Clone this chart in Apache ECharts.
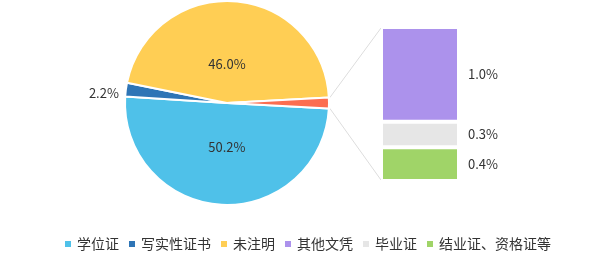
<!DOCTYPE html>
<html><head><meta charset="utf-8">
<script src="https://cdn.jsdelivr.net/npm/echarts@6/dist/echarts.min.js"></script>
<style>html,body{margin:0;padding:0;background:#fff}#c{width:600px;height:256px}</style>
</head><body><div id="c"></div>
<script>
// Pie data
const pieNames = ['学位证', '写实性证书', '未注明', '其他'];
const pieValues = [50.2, 2.2, 46.0];
// Breakdown of "其他" (stacked bar), top to bottom
const barNames = ['其他文凭', '毕业证', '结业证、资格证等'];
const barValues = [1.04, 0.28, 0.37];
const legendNames = ['学位证', '写实性证书', '未注明', '其他文凭', '毕业证', '结业证、资格证等'];

const pieColors = ['#4fc1e9', '#2e75b6', '#ffce54', '#fc6e51'];
const barColors = ['#ac92ec', '#e6e6e6', '#a0d468'];

const otherTotal = barValues.reduce((a, b) => a + b, 0);
const allPie = pieValues.concat([otherTotal]);
const total = allPie.reduce((a, b) => a + b, 0);
const otherAngle = otherTotal / total * 360;
const startAngle = -otherAngle / 2;
const center = [227, 103];
const radius = 102;
const font = '"Noto Sans CJK SC", "Noto Sans", sans-serif';
const labelOffsets = [[3, -10], [0, 4], [-4, 15], [0, 0]];

const chart = echarts.init(document.getElementById('c'));

const pieData = allPie.map((v, i) => {
  const d = { name: pieNames[i], value: v, itemStyle: { color: pieColors[i] }, label: { offset: labelOffsets[i] } };
  if (i === 1) {
    d.label.position = 'outside';
    d.labelLine = { show: false, length: 2, length2: 0 };
  }
  if (i === 3) {
    d.label.show = false;
  }
  return d;
});

// bars: stacking bottom to top
const barSeries = [];
for (let i = barNames.length - 1; i >= 0; i--) {
  barSeries.push({
    type: 'bar', name: barNames[i], stack: 's',
    data: [barValues[i]], barWidth: '100%',
    itemStyle: { color: barColors[i], borderColor: '#fff', borderWidth: 2 },
    label: { show: true, position: 'right', distance: 9, color: '#333', fontSize: 13, fontFamily: font,
      formatter: p => p.value.toFixed(1) + '%' },
    emphasis: { disabled: true }
  });
}

const option = {
  animation: false,
  color: pieColors.concat(barColors),
  legend: {
    data: legendNames.map((n, i) => ({ name: n, itemStyle: { color: i < 3 ? pieColors[i] : barColors[i - 3] } })),
    bottom: 0, left: 58, icon: 'rect', itemWidth: 8, itemHeight: 8, itemGap: 8,
    textStyle: { fontSize: 14, color: '#333', fontFamily: font }
  },
  grid: { left: 381, top: 27, width: 78, height: 154, containLabel: false },
  xAxis: { type: 'category', data: ['其他'], show: false },
  yAxis: { type: 'value', min: 0, max: otherTotal, show: false },
  series: [{
    type: 'pie', name: '证书', center: center, radius: radius,
    startAngle: startAngle, clockwise: true,
    data: pieData,
    itemStyle: { borderColor: '#fff', borderWidth: 2 },
    label: { show: true, position: 'inside', color: '#333', fontSize: 13, fontFamily: font,
      formatter: p => p.value.toFixed(1) + '%' },
    labelLine: { show: false },
    emphasis: { disabled: true }
  }].concat(barSeries)
};
chart.setOption(option);

// connector lines from the "other" slice edges to the bar corners
const a1 = startAngle * Math.PI / 180;
const a2 = -startAngle * Math.PI / 180;
const p1 = [center[0] + radius * Math.cos(a1), center[1] - radius * Math.sin(a1)];
const p2 = [center[0] + radius * Math.cos(a2), center[1] - radius * Math.sin(a2)];
const topLeft = chart.convertToPixel({ gridIndex: 0 }, [0, otherTotal]);
const botLeft = chart.convertToPixel({ gridIndex: 0 }, [0, 0]);
const barLeft = 381;
chart.setOption({
  graphic: [
    { type: 'line', shape: { x1: p2[0] + 1, y1: p2[1], x2: barLeft, y2: topLeft[1] + 1 }, style: { stroke: '#ddd', lineWidth: 1 }, z: 0 },
    { type: 'line', shape: { x1: p1[0] + 1, y1: p1[1], x2: barLeft, y2: botLeft[1] - 1 }, style: { stroke: '#ddd', lineWidth: 1 }, z: 0 }
  ]
});
</script></body></html>
